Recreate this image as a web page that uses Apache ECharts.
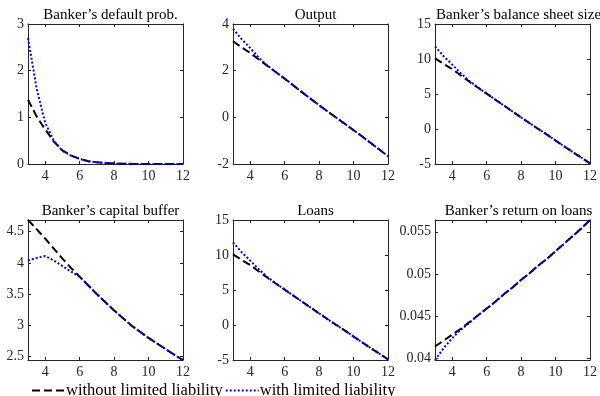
<!DOCTYPE html>
<html>
<head>
<meta charset="utf-8">
<script src="https://cdn.jsdelivr.net/npm/echarts@6/dist/echarts.min.js"></script>
<style>
  html, body { margin: 0; padding: 0; background: #fff; }
  #chart { width: 600px; height: 396px; }
</style>
</head>
<body>
<div id="chart"></div>
<script>
// horizon (x values shared by all panels)
const horizon = [3, 3.5, 4, 4.5, 5, 5.5, 6, 6.5, 7, 7.5, 8, 8.5, 9, 9.5, 10, 10.5, 11, 11.5, 12];

const titles = [
  "Banker\u2019s default prob.",
  "Output",
  "Banker\u2019s balance sheet size",
  "Banker\u2019s capital buffer",
  "Loans",
  "Banker\u2019s return on loans"
];

// without limited liability (black dashed)
const defaultNoLL = [1.38, 1.02, 0.74, 0.48, 0.29, 0.18, 0.11, 0.06, 0.035, 0.02, 0.01, 0.006, 0.003, 0.002, 0.001, 0, 0, 0, 0];
const outputNoLL = [3.26, 3.0, 2.76, 2.48, 2.2, 1.93, 1.66, 1.37, 1.08, 0.8, 0.52, 0.25, -0.02, -0.28, -0.55, -0.82, -1.1, -1.38, -1.67];
const balanceNoLL = [10.1, 9.3, 8.55, 7.65, 6.75, 5.9, 5.05, 4.2, 3.35, 2.5, 1.65, 0.82, 0, -0.8, -1.65, -2.48, -3.3, -4.1, -4.9];
const bufferNoLL = [4.69, 4.54, 4.39, 4.23, 4.07, 3.92, 3.78, 3.64, 3.5, 3.37, 3.24, 3.12, 3.0, 2.9, 2.8, 2.71, 2.62, 2.53, 2.447];
const loansNoLL = [10.1, 9.3, 8.55, 7.65, 6.75, 5.9, 5.05, 4.2, 3.35, 2.5, 1.65, 0.82, 0, -0.8, -1.65, -2.48, -3.3, -4.1, -4.9];
const returnNoLL = [0.0414, 0.0421, 0.0428, 0.0435, 0.0443, 0.0451, 0.0459, 0.0467, 0.0476, 0.0484, 0.0493, 0.0501, 0.051, 0.0518, 0.0527, 0.0536, 0.0545, 0.0554, 0.0564];

// with limited liability (blue dotted)
const defaultLL = [2.7, 1.62, 0.88, 0.5, 0.28, 0.18, 0.11, 0.06, 0.035, 0.02, 0.01, 0.006, 0.003, 0.002, 0.001, 0, 0, 0, 0];
const outputLL = [3.79, 3.35, 2.97, 2.55, 2.22, 1.93, 1.66, 1.37, 1.08, 0.8, 0.52, 0.25, -0.02, -0.28, -0.55, -0.82, -1.1, -1.38, -1.67];
const balanceLL = [11.8, 10.4, 9.2, 7.95, 6.85, 5.92, 5.05, 4.2, 3.35, 2.5, 1.65, 0.82, 0, -0.8, -1.65, -2.48, -3.3, -4.1, -4.9];
const bufferLL = [4.04, 4.08, 4.11, 4.04, 3.95, 3.86, 3.78, 3.64, 3.5, 3.37, 3.24, 3.12, 3.0, 2.9, 2.8, 2.71, 2.62, 2.53, 2.447];
const loansLL = [11.8, 10.4, 9.2, 7.95, 6.85, 5.92, 5.05, 4.2, 3.35, 2.5, 1.65, 0.82, 0, -0.8, -1.65, -2.48, -3.3, -4.1, -4.9];
const returnLL = [0.0398, 0.0412, 0.0424, 0.0434, 0.0442, 0.0451, 0.0459, 0.0467, 0.0476, 0.0484, 0.0493, 0.0501, 0.051, 0.0518, 0.0527, 0.0536, 0.0545, 0.0554, 0.0564];

// axis limits and tick labels
const xTicks = [4, 6, 8, 10, 12];
const yLimits = [[0, 3], [-2, 4], [-5, 15], [2.447, 4.687], [-5, 15], [0.0398, 0.0564]];
const yTicks = [
  [0, 1, 2, 3],
  [-2, 0, 2, 4],
  [-5, 0, 5, 10, 15],
  [2.5, 3, 3.5, 4, 4.5],
  [-5, 0, 5, 10, 15],
  [0.04, 0.045, 0.05, 0.055]
];

const noLL = [defaultNoLL, outputNoLL, balanceNoLL, bufferNoLL, loansNoLL, returnNoLL];
const withLL = [defaultLL, outputLL, balanceLL, bufferLL, loansLL, returnLL];

const FONT = "Liberation Serif";
const AX = "#262626";
const boxes = [
  { left: 28, top: 24, width: 155, height: 140 },
  { left: 233, top: 24, width: 155, height: 140 },
  { left: 435, top: 24, width: 157, height: 140 },
  { left: 28, top: 220, width: 155, height: 140 },
  { left: 233, top: 220, width: 155, height: 140 },
  { left: 435, top: 220, width: 157, height: 140 }
];

const chart = echarts.init(document.getElementById("chart"));

const grid = [], xAxis = [], yAxis = [], series = [], title = [];
boxes.forEach((b, i) => {
  grid.push(Object.assign({ containLabel: false }, b));
  title.push({
    text: titles[i],
    left: b.left + b.width / 2,
    top: b.top - 21,
    textAlign: "center",
    textStyle: { fontFamily: FONT, fontSize: 15, fontWeight: "normal", color: "#000" }
  });
  const tickStyle = { show: true, inside: true, length: 3, lineStyle: { color: AX, width: 1 } };
  // bottom + top x axes
  ["bottom", "top"].forEach((pos) => {
    xAxis.push({
      type: "value", gridIndex: i, position: pos, min: 3, max: 12,
      axisLine: { show: true, onZero: false, lineStyle: { color: AX, width: 1 } },
      axisTick: Object.assign({ customValues: xTicks }, tickStyle),
      axisLabel: {
        show: pos === "bottom", customValues: xTicks, margin: 5,
        fontFamily: FONT, fontSize: 14, color: AX
      },
      splitLine: { show: false }
    });
  });
  const [ymin, ymax] = yLimits[i];
  ["left", "right"].forEach((pos) => {
    yAxis.push({
      type: "value", gridIndex: i, position: pos, min: ymin, max: ymax,
      axisLine: { show: true, onZero: false, lineStyle: { color: AX, width: 1 } },
      axisTick: Object.assign({ customValues: yTicks[i] }, tickStyle),
      axisLabel: {
        show: pos === "left", customValues: yTicks[i], margin: 4,
        fontFamily: FONT, fontSize: 14, color: AX,
        formatter: (v) => String(+v.toFixed(4))
      },
      splitLine: { show: false }
    });
  });
  series.push({
    name: "without limited liability", type: "line",
    xAxisIndex: i * 2, yAxisIndex: i * 2,
    data: horizon.map((x, k) => [x, noLL[i][k]]),
    showSymbol: false, symbol: "none", smooth: false,
    lineStyle: { color: "#000", width: 2, type: [8, 4] },
    itemStyle: { color: "#000" },
    silent: true, z: 2
  });
  series.push({
    name: "with limited liability", type: "line",
    xAxisIndex: i * 2, yAxisIndex: i * 2,
    data: horizon.map((x, k) => [x, withLL[i][k]]),
    showSymbol: false, symbol: "none", smooth: false,
    lineStyle: { color: "#0000ff", width: 2, type: [2, 2] },
    itemStyle: { color: "#0000ff" },
    silent: true, z: 3
  });
});

chart.setOption({
  animation: false,
  title,
  grid,
  xAxis,
  yAxis,
  series,
  legend: {
    data: ["without limited liability", "with limited liability"],
    left: 26, top: 377,
    itemWidth: 33, itemHeight: 10, itemGap: 2,
    itemStyle: { opacity: 0 },
    textStyle: { fontFamily: FONT, fontSize: 16.5, color: "#000", padding: [0, 0, 0, -4] }
  }
});
</script>
</body>
</html>
